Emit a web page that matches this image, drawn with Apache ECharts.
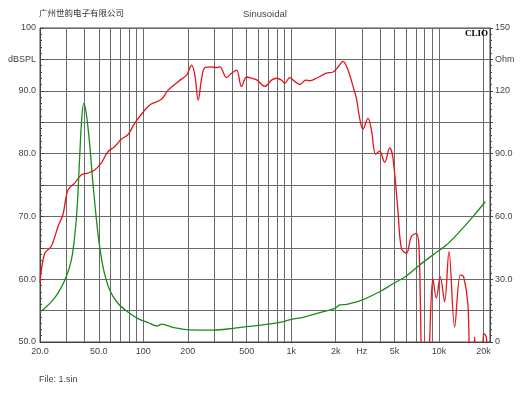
<!DOCTYPE html>
<html>
<head>
<meta charset="utf-8">
<script src="https://cdn.jsdelivr.net/npm/echarts@6/dist/echarts.min.js"></script>
<style>
  html, body { margin: 0; padding: 0; background: #fff; }
  #chart { width: 530px; height: 398px; }
</style>
</head>
<body>
<div id="chart"></div>
<script>
// SPL curve (red), frequency in Hz / level in dB
const freqSPL = [20, 21.5, 23.8, 26.5, 28.6, 30.9, 34.3, 38, 42.2, 46.8,
  51.9, 57.6, 63.9, 70.9, 78.6, 87.3, 102, 113, 132, 147,
  177, 196, 212, 223, 235, 248, 261, 289, 313, 329,
  365, 395, 427, 461, 499, 539, 588, 663, 736, 795,
  860, 904, 977, 1057, 1143, 1254, 1334, 1481, 1731, 1919,
  2075, 2241, 2422, 2619, 2761, 2905, 3057, 3305, 3485, 3726,
  3964, 4286, 4634, 4877, 5273, 5561, 6012, 6493, 7020, 7312,
  7783, 8280, 9085, 9574, 10190, 10892, 11664, 12740, 13930, 14660,
  15680, 16270, 17000, 17390, 17900, 19500, 20000, 20860, 21620];
const spl = [59.5, 64.1, 65.2, 68.4, 70.3, 74.2, 75.3, 76.6, 76.9, 77.4,
  78.5, 80.3, 81.1, 82.3, 83.0, 84.8, 86.9, 87.9, 88.6, 90.1,
  91.7, 92.5, 94.1, 92.5, 88.5, 92.0, 93.7, 93.8, 93.7, 93.8,
  92.1, 92.8, 93.3, 90.7, 92.2, 92.0, 91.7, 90.7, 91.7, 92.0,
  91.7, 91.2, 92.1, 91.5, 91.0, 91.7, 91.6, 92.0, 92.8, 93.0,
  93.8, 94.7, 93.3, 90.7, 88.8, 85.6, 83.9, 85.6, 83.8, 79.9,
  80.4, 78.6, 80.9, 79.3, 70.8, 64.9, 64.1, 66.8, 67.3, 65.2,
  45, 45, 60.1, 57.0, 60.4, 56.4, 64.4, 52.4, 60.7, 60.4,
  55.9, 45, 45, 50.8, 45, 45, 51.4, 50.8, 45];

// impedance curve (green), frequency in Hz / Ohm
const freqImp = [20, 21.5, 24.5, 27.2, 30.1, 32.6, 34.3, 35.7, 37.1, 38.4,
  39.6, 41.1, 43.3, 45.6, 49.3, 53.3, 59.1, 67.3, 78.6, 91.9,
  107, 124, 133, 159, 206, 296, 404, 499, 681, 837,
  1004, 1203, 1560, 1969, 2129, 2361, 2905, 3964, 4877, 6012,
  7395, 9085, 11200, 13770, 16940, 20540];
const imp = [14.5, 16.1, 20.1, 24.8, 31.2, 39.2, 50.3, 64.6, 88.5, 107.6,
  114.0, 109.2, 94.9, 75.8, 51.9, 36.0, 25.0, 18.5, 14.3, 11.2,
  9.4, 7.6, 8.5, 7.0, 5.8, 5.7, 6.5, 7.3, 8.4, 9.4,
  10.8, 11.8, 14.0, 16.1, 17.7, 18.0, 19.6, 24.0, 27.8, 31.5,
  36.8, 41.6, 46.3, 52.7, 59.9, 67.0];

// axis ticks
const gridFreqs = [20, 30, 40, 50, 60, 70, 80, 90, 100, 200, 300, 400, 500, 600, 700, 800, 900,
  1000, 2000, 3000, 4000, 5000, 6000, 7000, 8000, 9000, 10000, 20000];
const labelFreqs = [20, 50, 100, 200, 500, 1000, 2000, 3000, 5000, 10000, 20000];
const xLabels = ['20.0', '50.0', '100', '200', '500', '1k', '2k', 'Hz', '5k', '10k', '20k'];
const dbTicks = [50, 60, 70, 80, 90, 95, 100];
const dbLabels = ['50.0', '60.0', '70.0', '80.0', '90.0', 'dBSPL', '100'];
const ohmTicks = [0, 30, 60, 90, 120, 135, 150];
const ohmLabels = ['0', '30.0', '60.0', '90.0', '120', 'Ohm', '150'];

const fMin = 20, fMax = 22100;
const lg = Math.log10;

function pickLabel(v, ticks, labels, useLog) {
  for (let i = 0; i < ticks.length; i++) {
    const t = useLog ? lg(ticks[i]) : ticks[i];
    if (Math.abs(v - t) < 1e-6) return labels[i];
  }
  return '';
}

const chart = echarts.init(document.getElementById('chart'));
const labelStyle = { fontSize: 9, color: '#444', fontFamily: 'Liberation Sans, Arial, sans-serif' };
const gridLine = { show: true, lineStyle: { color: '#6a6a6a', width: 1 } };

chart.setOption({
  animation: false,
  backgroundColor: '#fff',
  title: [
    { text: '广州世韵电子有限公司', left: 39, top: 9, padding: 0,
      textStyle: { fontSize: 8.5, fontWeight: 'normal', color: '#333', fontFamily: 'Noto Sans CJK SC' } },
    { text: 'Sinusoidal', left: 243, top: 9, padding: 0,
      textStyle: { fontSize: 9.5, fontWeight: 'normal', color: '#444', fontFamily: 'Liberation Sans, Arial' } },
    { text: 'CLIO', right: 42, top: 29, padding: 0,
      textStyle: { fontSize: 9, fontWeight: 'bold', color: '#000', fontFamily: 'Liberation Serif, DejaVu Serif, serif' } },
    { text: 'File: 1.sin', left: 39, top: 375, padding: 0,
      textStyle: { fontSize: 9, fontWeight: 'normal', color: '#444', fontFamily: 'Liberation Sans, Arial' } }
  ],
  grid: { left: 40, right: 40, top: 28, bottom: 56, show: true, borderColor: '#444', borderWidth: 1 },
  xAxis: {
    type: 'value', min: lg(fMin), max: lg(fMax),
    axisLine: { show: true, lineStyle: { color: '#444' } },
    axisTick: { show: false, customValues: gridFreqs.map(lg) },
    splitLine: gridLine,
    axisLabel: {
      customValues: labelFreqs.map(lg), margin: 5, ...labelStyle,
      formatter: v => pickLabel(v, labelFreqs, xLabels, true)
    }
  },
  yAxis: [
    {
      type: 'value', min: 50, max: 100, interval: 5,
      axisLine: { show: true, lineStyle: { color: '#444' } },
      axisTick: { show: true, inside: true, length: 4, lineStyle: { color: '#444' } },
      minorTick: { show: true, splitNumber: 5, length: 2, lineStyle: { color: '#444' } },
      splitLine: gridLine,
      axisLabel: { margin: 4, ...labelStyle, formatter: v => pickLabel(v, dbTicks, dbLabels, false) }
    },
    {
      type: 'value', min: 0, max: 150, interval: 15, position: 'right',
      axisLine: { show: true, lineStyle: { color: '#444' } },
      axisTick: { show: true, inside: false, length: 3, lineStyle: { color: '#444' } },
      minorTick: { show: true, splitNumber: 5, length: 2, lineStyle: { color: '#444' } },
      splitLine: { show: false },
      axisLabel: { margin: 5, ...labelStyle, formatter: v => pickLabel(v, ohmTicks, ohmLabels, false) }
    }
  ],
  series: [
    {
      name: 'SPL', type: 'line', yAxisIndex: 0, showSymbol: false, smooth: 0.35, clip: true,
      lineStyle: { color: '#e8121a', width: 1.3 },
      data: freqSPL.map((f, i) => [lg(f), spl[i]])
    },
    {
      name: 'Impedance', type: 'line', yAxisIndex: 1, showSymbol: false, smooth: 0.35, clip: true,
      lineStyle: { color: '#1b8a1b', width: 1.3 },
      data: freqImp.map((f, i) => [lg(f), imp[i]])
    }
  ]
});
</script>
</body>
</html>
